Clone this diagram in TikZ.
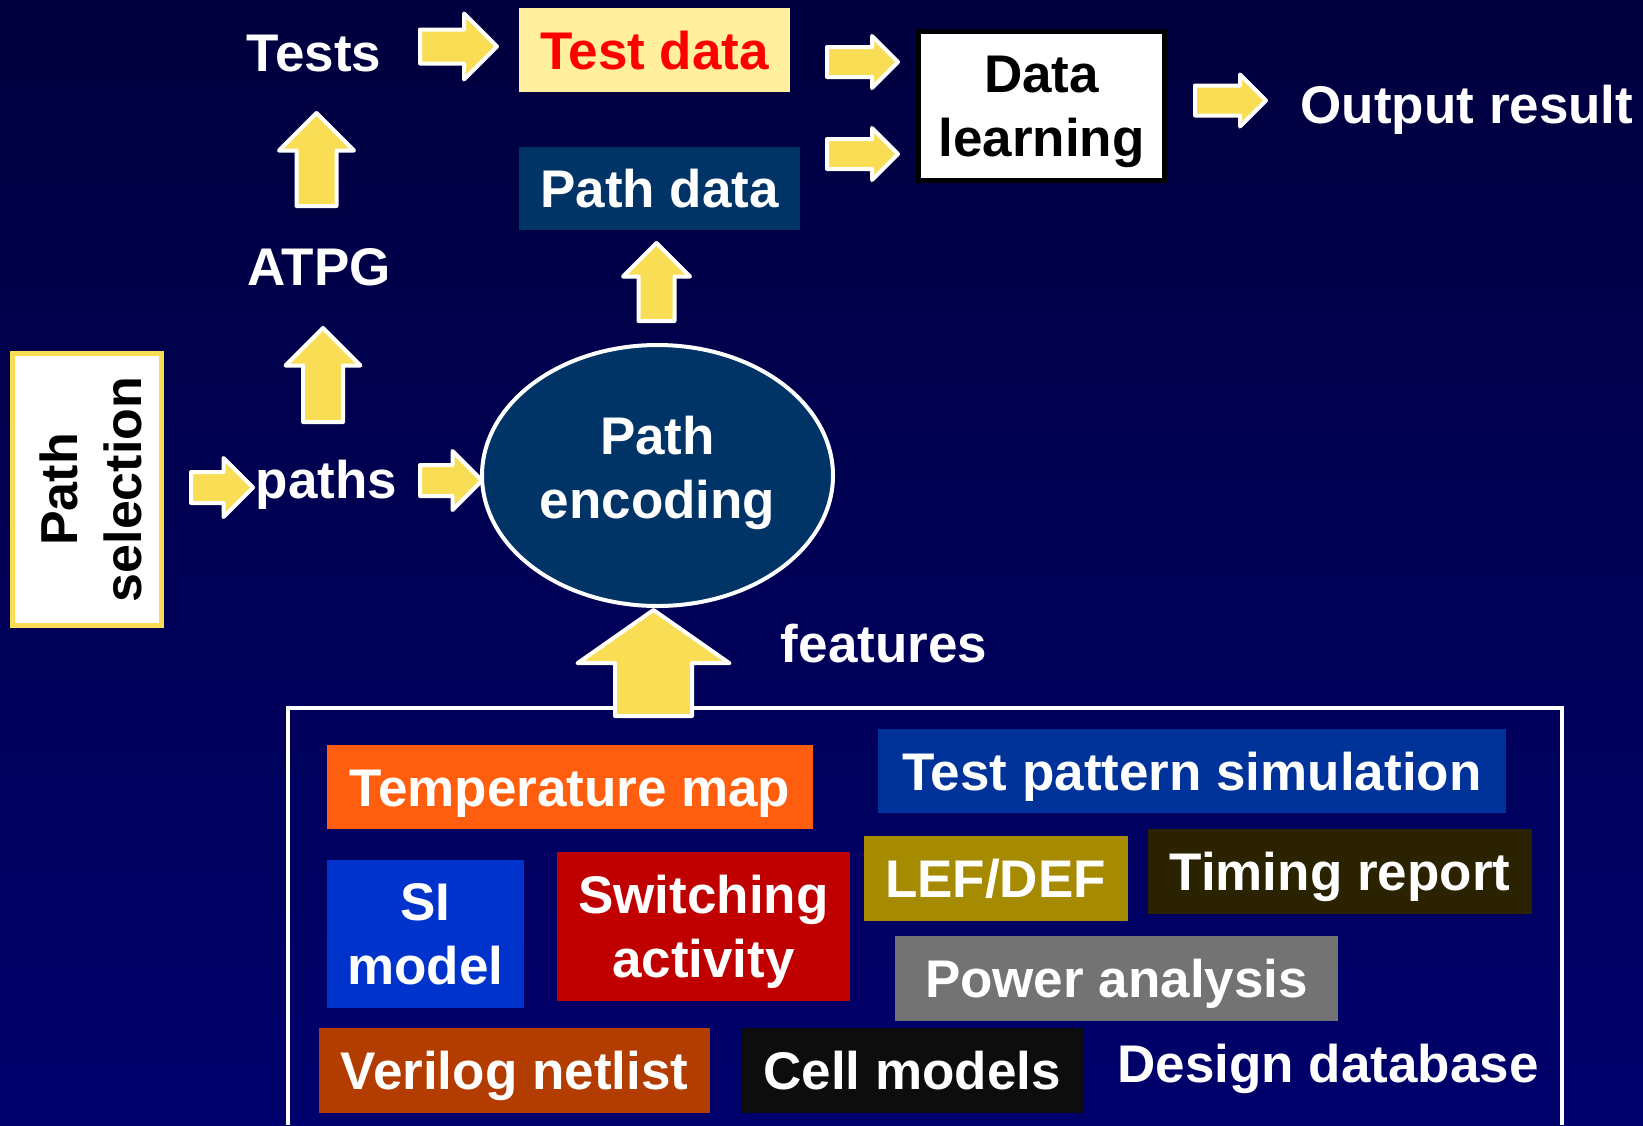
\documentclass[tikz,border=0pt]{standalone}
\usepackage{fontspec}
\setmainfont{Liberation Sans}
\usetikzlibrary{shapes.geometric,shapes.arrows,calc,positioning}
\definecolor{navytop}{RGB}{0,0,62}
\definecolor{navybottom}{RGB}{0,0,108}
\definecolor{arrowyellow}{RGB}{249,221,85}
\definecolor{paleyellow}{RGB}{255,239,158}
\definecolor{pathblue}{RGB}{0,51,102}
\definecolor{temporange}{RGB}{255,94,14}
\definecolor{simblue}{RGB}{0,51,153}
\definecolor{siblue}{RGB}{0,51,204}
\definecolor{switchred}{RGB}{192,0,0}
\definecolor{lefgold}{RGB}{166,138,0}
\definecolor{timingbrown}{RGB}{43,34,0}
\definecolor{powergray}{RGB}{115,115,115}
\definecolor{verilogrust}{RGB}{179,60,0}
\definecolor{cellblack}{RGB}{13,13,13}
\newcommand\bigfont{\fontsize{26.5}{32}\selectfont\bfseries}
\tikzset{
  freetext/.style={
    text=white,
    font=\bigfont,
    inner sep=0pt,
    anchor=base
  },
  chip/.style={
    font=\bigfont,
    text=white,
    inner sep=0pt,
    align=center
  },
  chipline/.style={
    chip,
    text height=19pt,
    text depth=0pt
  },
  learnbox/.style={
    chip,
    text=black,
    fill=white,
    draw=black,
    line width=2.5pt,
    minimum width=123pt,
    minimum height=74.5pt
  },
  selbox/.style={
    chip,
    text=black,
    rotate=90,
    fill=white,
    draw=arrowyellow,
    line width=2.5pt,
    font=\fontsize{26}{32}\selectfont\bfseries,
    minimum width=136pt,
    minimum height=74.5pt
  },
  encoder/.style={
    chip,
    ellipse,
    fill=pathblue,
    draw=white,
    line width=2pt,
    minimum width=175.5pt,
    minimum height=130.5pt
  },
  blockarrow/.style={
    shape=single arrow,
    fill=arrowyellow,
    draw=white,
    line width=2pt,
    line join=round,
    inner xsep=0pt,
    anchor=tail
  },
  adims/.style n args={3}{
    minimum height=#1,
    inner ysep=#2,
    single arrow head extend=#3
  }
}
\begin{document}
\begin{tikzpicture}[x=0.5pt,y=-0.5pt]
\useasboundingbox (0,0) rectangle (1643,1125);
\shade[top color=navytop,bottom color=navybottom] (0,0) rectangle (1643,1125);

% upper flow
\node[freetext] (tests) at (314,71) {Tests};
\node[chipline,fill=paleyellow,text=red,minimum width=135.5pt,minimum height=42pt] (testdata) at (654.5,50) {Test data};
\node[chipline,fill=pathblue,minimum width=140.5pt,minimum height=41.5pt] (pathdata) at (659.5,188.5) {Path data};
\node[learnbox] (learn) at (1041.5,106) {Data\\\smash{learning}};
\node[freetext] (output) at (1467,123) {Output result};
\node[freetext] (atpg) at (319,285) {ATPG};
\node[freetext] (paths) at (326.5,498) {paths};
\node[selbox] (pathsel) at (86.5,489.5) {\rule{0pt}{23.5pt}Path\\selection};
\node[encoder] (encoding) at (657.5,475.5) {Path\\\smash{encoding}\rule[-8pt]{0pt}{8pt}};
\node[freetext] (features) at (884,662) {features};

% design database
\draw[white,line width=2pt] (288,1125) |- (1562,708) -- (1562,1125);
\node[chipline,fill=temporange,minimum width=243pt,minimum height=42pt] (temp) at (570,787) {Temperature map};
\node[chipline,fill=simblue,minimum width=314pt,minimum height=42pt] (testsim) at (1192,771) {Test pattern simulation};
\node[chip,fill=siblue,minimum width=98.5pt,minimum height=74pt] (simodel) at (425.5,934) {SI\\model};
\node[chip,fill=switchred,minimum width=146.5pt,minimum height=74.5pt] (switching) at (703.5,926.5) {Switching\\\smash{activity}};
\node[chipline,fill=lefgold,minimum width=132pt,minimum height=42.5pt] (lefdef) at (995.5,878.5) {LEF/DEF};
\node[chipline,fill=timingbrown,minimum width=192pt,minimum height=42.5pt] (timing) at (1340,871.5) {Timing report};
\node[chipline,fill=powergray,minimum width=221.5pt,minimum height=42.5pt] (power) at (1116.5,978.5) {Power analysis};
\node[chipline,fill=verilogrust,minimum width=195.5pt,minimum height=42.5pt] (verilog) at (514.5,1070.5) {Verilog netlist};
\node[chipline,fill=cellblack,minimum width=171pt,minimum height=42.5pt] (cells) at (912,1070.5) {Cell models};
\node[freetext] (designdb) at (1328,1082) {Design database};

% block arrows, placed by their tails
\node[blockarrow,adims={38.5pt}{7.5pt}{8pt}] (a1) at (418,46.5) {};
\node[blockarrow,adims={35.5pt}{6.5pt}{5.5pt}] (a2) at (825,62) {};
\node[blockarrow,adims={35.5pt}{6.5pt}{5.5pt}] (a3) at (825,154) {};
\node[blockarrow,adims={35.5pt}{6.5pt}{5.5pt}] (a4) at (1193,100.5) {};
\node[blockarrow,rotate=90,adims={46.5pt}{9pt}{8.75pt}] (u1) at (316.5,208) {};
\node[blockarrow,rotate=90,adims={47pt}{9pt}{8.75pt}] (u2) at (323,424) {};
\node[blockarrow,rotate=90,adims={39pt}{8pt}{7.75pt}] (u3) at (656.5,323) {};
\node[blockarrow,adims={31pt}{6.75pt}{7pt}] (a5) at (189,487.5) {};
\node[blockarrow,adims={31pt}{6.75pt}{7pt}] (a6) at (418,480.5) {};
\node[blockarrow,rotate=90,single arrow tip angle=110,adims={53pt}{18.25pt}{18.75pt}] (u4) at (653.5,718) {};
\end{tikzpicture}
\end{document}
